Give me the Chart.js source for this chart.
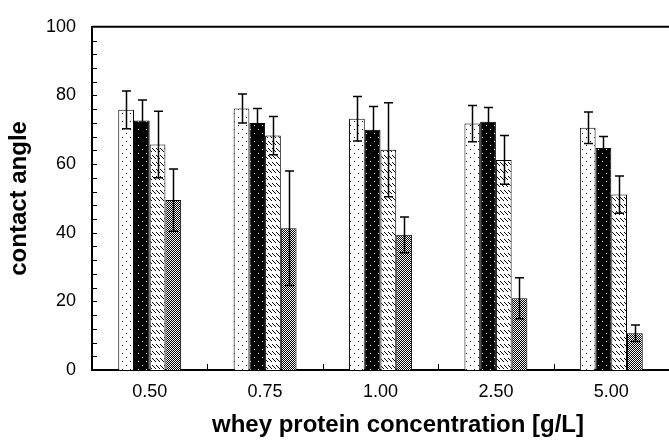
<!DOCTYPE html>
<html>
<head>
<meta charset="utf-8">
<script src="https://cdn.jsdelivr.net/npm/chart.js@4/dist/chart.umd.min.js"></script>
<style>
  html, body { margin: 0; padding: 0; background: #fff; }
  #chart { display: block; }
</style>
</head>
<body>
<canvas id="chart" width="669" height="443"></canvas>
<script>
// concentrations on the x axis
const categories = ['0.50', '0.75', '1.00', '2.50', '5.00'];

// four series, mean contact angle and +/- error
const dottedVals = [75.8, 76.2, 73.2, 71.8, 70.6];
const dottedErr  = [5.5, 4.2, 6.5, 5.3, 4.6];
const blackVals  = [72.7, 72.0, 70.0, 72.3, 64.7];
const blackErr   = [6.0, 4.2, 6.8, 4.2, 3.3];
const hatchVals  = [65.7, 68.3, 64.2, 61.2, 51.1];
const hatchErr   = [9.7, 5.6, 13.7, 7.1, 5.4];
const checkVals  = [49.5, 41.3, 39.4, 20.9, 10.7];
const checkErr   = [9.1, 16.7, 5.2, 6.0, 2.4];

const yMin = 0, yMax = 100, yStep = 20, yMinorStep = 4;
const xTitle = 'whey protein concentration [g/L]';
const FONT = 'Liberation Sans, Arial, sans-serif';

// --- fill patterns ---
function makePattern(w, h, draw) {
  const c = document.createElement('canvas');
  c.width = w; c.height = h;
  const g = c.getContext('2d');
  draw(g);
  return g.createPattern(c, 'repeat');
}

const dotted = makePattern(8, 8, g => {
  g.fillStyle = '#fff'; g.fillRect(0, 0, 8, 8);
  g.fillStyle = '#000';
  g.fillRect(2, 1, 1, 1); g.fillRect(6, 5, 1, 1);
});
const blackDots = makePattern(8, 8, g => {
  g.fillStyle = '#000'; g.fillRect(0, 0, 8, 8);
  g.fillStyle = '#fff';
  g.fillRect(2, 1, 1, 1); g.fillRect(6, 5, 1, 1);
});
// short "\" strokes in rows
const hatched = makePattern(4, 7, g => {
  g.fillStyle = '#fff'; g.fillRect(0, 0, 4, 7);
  g.fillStyle = '#000';
  for (let k = 0; k < 4; k++) g.fillRect(k, 1 + k, 1, 1);
});
const checker = makePattern(2, 2, g => {
  g.fillStyle = '#000'; g.fillRect(0, 0, 2, 2);
  g.fillStyle = '#fff';
  g.fillRect(0, 0, 1, 1); g.fillRect(1, 1, 1, 1);
});

const errors = [dottedErr, blackErr, hatchErr, checkErr];

// error bars, tick marks, top frame line and the x title
const decorations = {
  id: 'decorations',
  afterDatasetsDraw(chart) {
    const ctx = chart.ctx;
    const y = chart.scales.y;
    ctx.save();
    ctx.strokeStyle = '#000';
    ctx.lineWidth = 1.5;
    chart.data.datasets.forEach((ds, i) => {
      const meta = chart.getDatasetMeta(i);
      meta.data.forEach((bar, j) => {
        const v = ds.data[j], e = errors[i][j];
        const top = y.getPixelForValue(v + e);
        const bot = y.getPixelForValue(v - e);
        const x = Math.round(bar.x) + 0.5;
        ctx.beginPath();
        ctx.moveTo(x, top); ctx.lineTo(x, bot);
        ctx.moveTo(x - 4.5, top); ctx.lineTo(x + 4.5, top);
        ctx.moveTo(x - 4.5, bot); ctx.lineTo(x + 4.5, bot);
        ctx.stroke();
      });
    });
    ctx.restore();
  },
  afterDraw(chart) {
    const ctx = chart.ctx;
    const { left, right, top, bottom } = chart.chartArea;
    const y = chart.scales.y, x = chart.scales.x;
    ctx.save();
    ctx.strokeStyle = '#000';
    ctx.lineWidth = 1;
    ctx.beginPath();
    for (let v = yMin + yMinorStep; v < yMax; v += yMinorStep) {
      const py = Math.round(y.getPixelForValue(v)) + 0.5;
      ctx.moveTo(left, py); ctx.lineTo(left + 5, py);
    }
    const half = (x.getPixelForValue(1) - x.getPixelForValue(0)) / 2;
    for (let i = 0; i < categories.length - 1; i++) {
      const px = Math.round(x.getPixelForValue(i) + half) + 0.5;
      ctx.moveTo(px, bottom); ctx.lineTo(px, bottom - 6);
    }
    ctx.stroke();
    ctx.lineWidth = 2;
    ctx.beginPath();
    ctx.moveTo(left, top); ctx.lineTo(right, top);
    ctx.stroke();

    // x axis title, set a bit right of the plot centre
    ctx.fillStyle = '#000';
    ctx.font = 'bold 24px ' + FONT;
    ctx.textAlign = 'center';
    ctx.textBaseline = 'middle';
    ctx.fillText(xTitle, 398, 425);
    ctx.restore();
  }
};

const barCommon = {
  borderColor: '#000',
  borderWidth: 1,
  borderSkipped: 'bottom',
  barPercentage: 1.0,
  categoryPercentage: 0.545
};

new Chart(document.getElementById('chart'), {
  type: 'bar',
  data: {
    labels: categories,
    datasets: [
      Object.assign({ label: 'A', data: dottedVals, backgroundColor: dotted }, barCommon),
      Object.assign({ label: 'B', data: blackVals, backgroundColor: blackDots }, barCommon),
      Object.assign({ label: 'C', data: hatchVals, backgroundColor: hatched }, barCommon),
      Object.assign({ label: 'D', data: checkVals, backgroundColor: checker }, barCommon)
    ]
  },
  plugins: [decorations],
  options: {
    responsive: false,
    animation: false,
    devicePixelRatio: 1,
    layout: { padding: { top: 16, right: 0, left: 0, bottom: 0 } },
    plugins: {
      legend: { display: false },
      tooltip: { enabled: false }
    },
    scales: {
      x: {
        grid: { display: false, drawTicks: false },
        border: { display: true, color: '#000', width: 2 },
        ticks: {
          color: '#000', padding: 11,
          font: { family: FONT, size: 18 }
        },
        title: { display: false },
        afterFit(scale) { scale.height = 73; }
      },
      y: {
        min: yMin, max: yMax,
        grid: { display: false, drawTicks: false },
        border: { display: true, color: '#000', width: 2 },
        ticks: {
          stepSize: yStep, color: '#000', padding: 16,
          font: { family: FONT, size: 18 }
        },
        title: {
          display: true, text: 'contact angle', color: '#000',
          padding: { top: 5, bottom: 0 },
          font: { family: FONT, size: 24, weight: 'bold' }
        },
        afterFit(scale) { scale.width = 92; }
      }
    }
  }
});
</script>
</body>
</html>
